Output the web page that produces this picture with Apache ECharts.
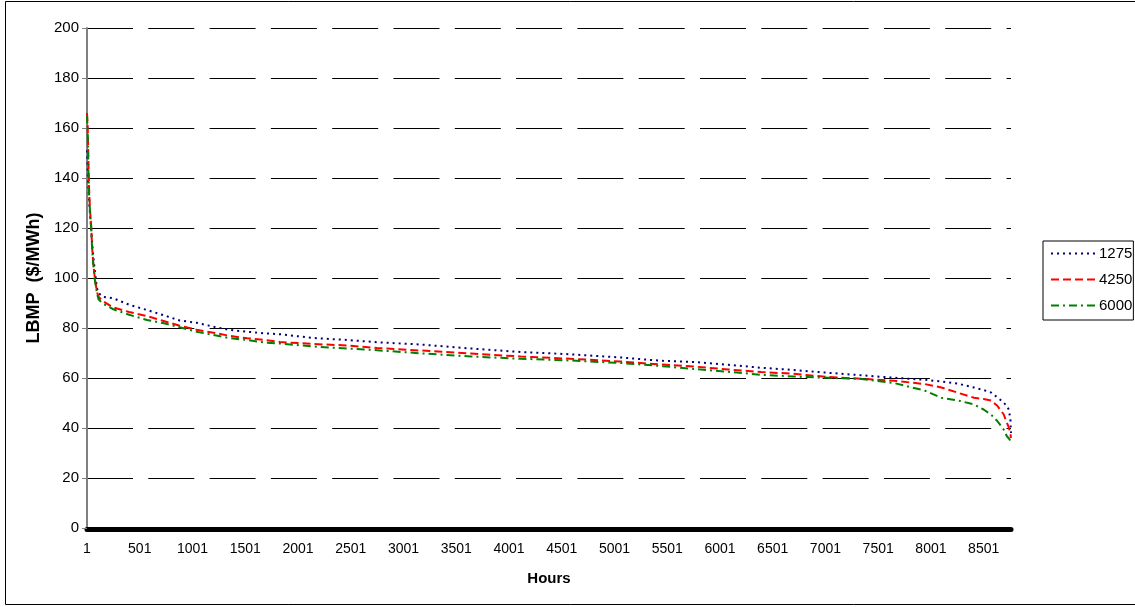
<!DOCTYPE html>
<html>
<head>
<meta charset="utf-8">
<script src="https://cdn.jsdelivr.net/npm/echarts@6/dist/echarts.min.js"></script>
<style>
html,body{margin:0;padding:0;background:#fff;}
#chart{width:1135px;height:607px;}
</style>
</head>
<body>
<div id="chart"></div>
<script>
// Hour of year (sorted duration curve)
const hours = [1, 8, 15, 22, 30, 40, 50, 60, 70, 80, 95, 110, 150, 250, 400, 570, 720, 880, 1040, 1200, 1360, 1520, 1680, 1830, 2150, 2470, 2750, 3160, 3640, 4110, 4580, 5060, 5440, 5750, 6080, 6390, 6700, 7020, 7340, 7650, 7940, 8100, 8250, 8410, 8500, 8570, 8630, 8690, 8720, 8740, 8755, 8760];
const s1275 = [151, 142, 136, 130, 125, 120, 114, 109, 105, 101, 96, 94, 92.5, 91.9, 89.3, 87.2, 85.2, 83.0, 82.1, 80.5, 79.2, 78.5, 77.9, 77.5, 76.0, 75.2, 74.3, 73.4, 71.8, 70.4, 69.5, 68.2, 66.9, 66.4, 65.3, 64.1, 63.2, 62.1, 61.1, 60.1, 59.3, 58.6, 57.8, 56.2, 55.2, 54.2, 52.3, 50.2, 48.8, 47.3, 43, 38];
const s4250 = [166, 160, 145, 134, 127, 121, 112, 106, 102, 98.5, 94.5, 92.5, 90.8, 88.2, 86.4, 84.8, 82.9, 80.9, 79.3, 78.1, 76.8, 75.9, 75.2, 74.4, 73.6, 73.0, 72.0, 71.0, 69.8, 68.6, 67.7, 66.6, 65.4, 64.6, 63.4, 62.4, 61.7, 60.4, 59.7, 58.9, 57.6, 56.2, 54.2, 52.1, 51.6, 51.0, 48.9, 45.5, 42.2, 40.2, 37.5, 36];
const s6000 = [165, 158, 142, 133, 126, 121, 111, 106, 101, 98, 94, 91.5, 89.8, 87.5, 85.3, 83.2, 82.0, 80.3, 78.5, 77.2, 75.9, 75.2, 74.2, 73.8, 72.6, 71.8, 71.1, 69.9, 68.6, 67.7, 67.0, 66.0, 64.8, 63.6, 62.5, 61.3, 60.6, 60.1, 59.6, 58.0, 55.0, 52.1, 51.1, 49.4, 47.4, 45.4, 42.8, 39.4, 36.8, 35.8, 35, 34.5];
const seriesNames = ['1275', '4250', '6000'];

const FONT = "'Liberation Sans', Arial, sans-serif";
const pairs = arr => hours.map((h, i) => [h - 1, arr[i]]);

const chart = echarts.init(document.getElementById('chart'), null, {renderer: 'canvas'});
chart.setOption({
  animation: false,
  backgroundColor: '#fff',
  textStyle: {fontFamily: FONT},
  graphic: [{
    type: 'rect', silent: true, z: -1,
    shape: {x: 5.5, y: 1.5, width: 1140, height: 603},
    style: {fill: 'none', stroke: '#000', lineWidth: 1}
  }],
  grid: {left: 87, right: 124, top: 28, bottom: 79, containLabel: false},
  legend: {
    data: seriesNames,
    orient: 'vertical',
    left: 1043, top: 241,
    itemWidth: 46, itemHeight: 14, itemGap: 11,
    padding: [5, 1, 7, 7],
    borderColor: '#000', borderWidth: 1,
    backgroundColor: '#fff',
    itemStyle: {opacity: 0},
    textStyle: {fontFamily: FONT, fontSize: 15, color: '#000', padding: [0, 0, 0, -3]}
  },
  xAxis: {
    type: 'value', min: 0, max: 8759, interval: 500,
    name: 'Hours', nameLocation: 'middle', nameGap: 42,
    nameTextStyle: {fontFamily: FONT, fontSize: 15, fontWeight: 'bold', color: '#000'},
    offset: 1,
    axisLine: {show: true, onZero: false, lineStyle: {color: '#000', width: 5}},
    axisTick: {show: false},
    axisLabel: {
      fontFamily: FONT, fontSize: 14, color: '#000', margin: 13,
      showMaxLabel: false, showMinLabel: true,
      formatter: v => String(v + 1)
    },
    splitLine: {show: false}
  },
  yAxis: {
    type: 'value', min: 0, max: 200, interval: 20,
    name: 'LBMP  ($/MWh)', nameLocation: 'middle', nameGap: 42,
    nameTextStyle: {fontFamily: FONT, fontSize: 18, fontWeight: 'bold', color: '#000'},
    axisLine: {show: true, lineStyle: {color: '#808080', width: 2}},
    axisTick: {show: true, length: 5, lineStyle: {color: '#808080', width: 1}},
    axisLabel: {fontFamily: FONT, fontSize: 15, color: '#000', margin: 8},
    splitLine: {show: true, lineStyle: {color: '#000', width: 1, type: [46, 15.3]}}
  },
  series: [
    {name: '1275', type: 'line', symbol: 'none', data: pairs(s1275),
     lineStyle: {color: '#000080', width: 2, type: [2, 4]}, itemStyle: {color: '#000080'}},
    {name: '4250', type: 'line', symbol: 'none', data: pairs(s4250),
     lineStyle: {color: '#FF0000', width: 2, type: [8, 4]}, itemStyle: {color: '#FF0000'}},
    {name: '6000', type: 'line', symbol: 'none', data: pairs(s6000),
     lineStyle: {color: '#008000', width: 2, type: [8, 4, 2, 4]}, itemStyle: {color: '#008000'}}
  ]
});
</script>
</body>
</html>
